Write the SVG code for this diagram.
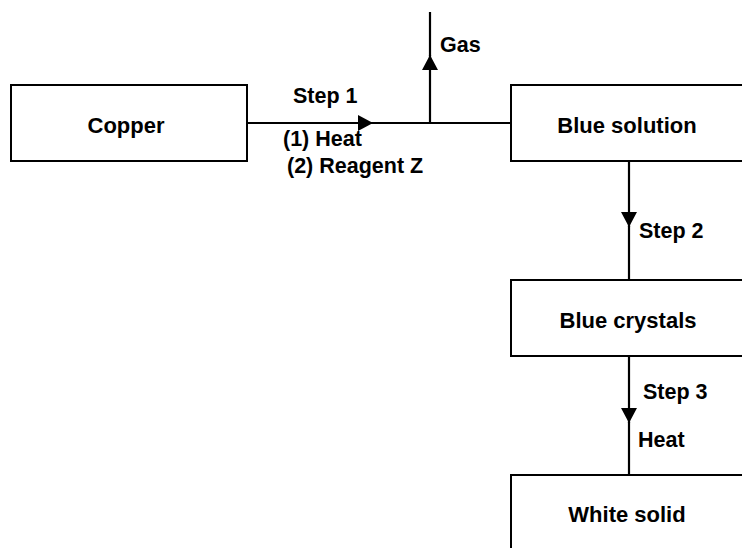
<svg xmlns="http://www.w3.org/2000/svg" width="742" height="548" viewBox="0 0 742 548">
<style>
.box{fill:#fff;stroke:#000;stroke-width:2}
.bl{font-family:"Liberation Sans",Arial,sans-serif;font-weight:bold;font-size:22px;fill:#000;text-anchor:middle}
.lb{font-family:"Liberation Sans",Arial,sans-serif;font-weight:bold;font-size:21.5px;fill:#000}
.ln{fill:none;stroke:#000;stroke-width:2.2}
</style>
<defs>
<marker id="tri" markerUnits="userSpaceOnUse" markerWidth="15" markerHeight="17" refX="15" refY="8" orient="auto" viewBox="0 0 15 16">
<path d="M0,0 L15,8 L0,16 z" fill="#000"/>
</marker>
</defs>
<rect width="742" height="548" fill="#fff"/>
<g id="connectors">
<path class="ln" d="M247,123 L373,123" marker-end="url(#tri)"/>
<path class="ln" d="M372,123 L511,123"/>
<path class="ln" d="M430,123 L430,55" marker-end="url(#tri)"/>
<path class="ln" d="M430,56 L430,12"/>
<path class="ln" d="M629,161 L629,227" marker-end="url(#tri)"/>
<path class="ln" d="M629,226 L629,280"/>
<path class="ln" d="M629,356 L629,423" marker-end="url(#tri)"/>
<path class="ln" d="M629,422 L629,475"/>
<text class="lb" x="293" y="103">Step 1</text>
<text class="lb" x="283" y="146">(1) Heat</text>
<text class="lb" x="287" y="173">(2) Reagent Z</text>
<text class="lb" x="440" y="52">Gas</text>
<text class="lb" x="639" y="238">Step 2</text>
<text class="lb" x="643" y="399">Step 3</text>
<text class="lb" x="638" y="447">Heat</text>
</g>
<g id="copper">
<rect class="box" x="11" y="85" width="236" height="76"/>
<text class="bl" x="126" y="133">Copper</text>
</g>
<g id="blue-solution">
<rect class="box" x="511" y="85" width="240" height="76"/>
<text class="bl" x="627" y="133">Blue solution</text>
</g>
<g id="blue-crystals">
<rect class="box" x="511" y="280" width="240" height="76"/>
<text class="bl" x="628" y="328">Blue crystals</text>
</g>
<g id="white-solid">
<rect class="box" x="511" y="475" width="240" height="80"/>
<text class="bl" x="627" y="522">White solid</text>
</g>
</svg>
